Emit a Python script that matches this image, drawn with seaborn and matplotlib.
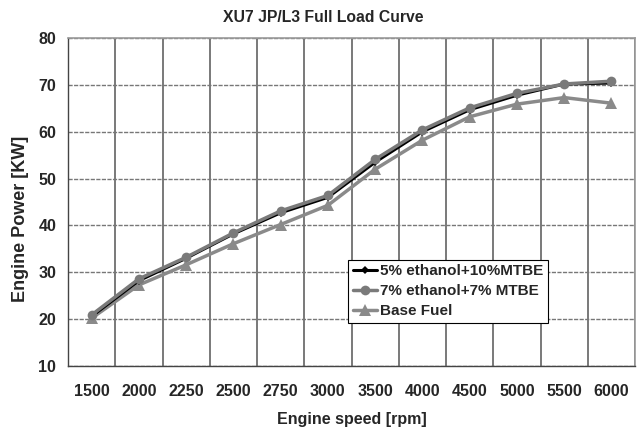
import matplotlib
matplotlib.use("Agg")
import matplotlib.pyplot as plt
import seaborn as sns
import numpy as np
import pandas as pd

rpm = ["1500", "2000", "2250", "2500", "2750", "3000", "3500", "4000", "4500", "5000", "5500", "6000"]
eth5_mtbe10 = [20.6, 28.2, 33.0, 38.2, 42.7, 46.0, 53.5, 60.0, 64.7, 67.8, 70.2, 70.4]
eth7_mtbe7 = [20.9, 28.6, 33.2, 38.4, 43.1, 46.4, 54.1, 60.4, 65.1, 68.2, 70.2, 70.8]
base_fuel = [20.2, 27.3, 31.6, 36.1, 40.2, 44.3, 52.0, 58.2, 63.2, 65.9, 67.3, 66.1]

sns.set_style("white")
plt.rcParams['font.family'] = ['Liberation Sans', 'DejaVu Sans']

pos = np.arange(len(rpm))
df = pd.DataFrame({'pos': pos, 'e5': eth5_mtbe10, 'e7': eth7_mtbe7, 'base': base_fuel})

fig = plt.figure(figsize=(6.38, 4.28), dpi=100)
ax = fig.add_axes([0.1066, 0.1449, 0.8887, 0.7661])

sns.lineplot(data=df, x='pos', y='base', ax=ax, color='#8a8a8a', lw=2.5, marker='^',
             markersize=8, markeredgewidth=0, label='Base Fuel', zorder=3)
sns.lineplot(data=df, x='pos', y='e5', ax=ax, color='black', lw=2.2, marker='D',
             markersize=4, markeredgewidth=0, label='5% ethanol+10%MTBE', zorder=4)
sns.lineplot(data=df, x='pos', y='e7', ax=ax, color='#7a7a7a', lw=2.5, marker='o',
             markersize=7, markeredgewidth=0, label='7% ethanol+7% MTBE', zorder=5)

ax.set_xlim(-0.5, len(rpm) - 0.5)
ax.set_ylim(10, 80)
ax.set_yticks(range(10, 81, 10))
ax.set_xticks(pos)
ax.set_xticklabels(rpm)
ax.set_xticks(np.arange(-0.5, len(rpm), 1), minor=True)
ax.tick_params(axis='x', which='major', length=0, pad=13, labelsize=11.5)
ax.tick_params(axis='x', which='minor', length=5, width=1, color='#444444', direction='out')
ax.tick_params(axis='y', length=5, width=1, color='#444444', direction='out', labelsize=11.5)
for lab in ax.get_xticklabels() + ax.get_yticklabels():
    lab.set_fontweight('bold')

ax.grid(True, axis='x', which='minor', color='#555555', lw=1.1, ls='-')
ax.grid(True, axis='y', which='major', color='#777777', lw=1.0, ls=(0, (3, 1)))
ax.set_axisbelow(True)
for side in ['top', 'right']:
    ax.spines[side].set_color('#999999')
    ax.spines[side].set_linewidth(1.2)
for side in ['left', 'bottom']:
    ax.spines[side].set_color('#444444')
    ax.spines[side].set_linewidth(1.0)

ax.set_xlabel('Engine speed [rpm]', fontsize=11.5, fontweight='bold', labelpad=9)
ax.set_ylabel('Engine Power [KW]', fontsize=13, fontweight='bold')
ax.yaxis.set_label_coords(-0.069, 0.45)
fig.text(0.507, 0.959, 'XU7 JP/L3 Full Load Curve', ha='center', va='center',
         fontsize=11.3, fontweight='bold')

handles, labels = ax.get_legend_handles_labels()
order = [labels.index('5% ethanol+10%MTBE'), labels.index('7% ethanol+7% MTBE'), labels.index('Base Fuel')]
leg = ax.legend([handles[i] for i in order], [labels[i] for i in order],
                loc='lower left', bbox_to_anchor=(0.494, 0.131), borderaxespad=0,
                fancybox=False, edgecolor='black', framealpha=1, handlelength=1.57,
                handletextpad=0.2, borderpad=0.3, labelspacing=0.4,
                prop={'weight': 'bold', 'size': 11})
leg.get_frame().set_linewidth(0.8)

fig.savefig('out.png', dpi=100)
